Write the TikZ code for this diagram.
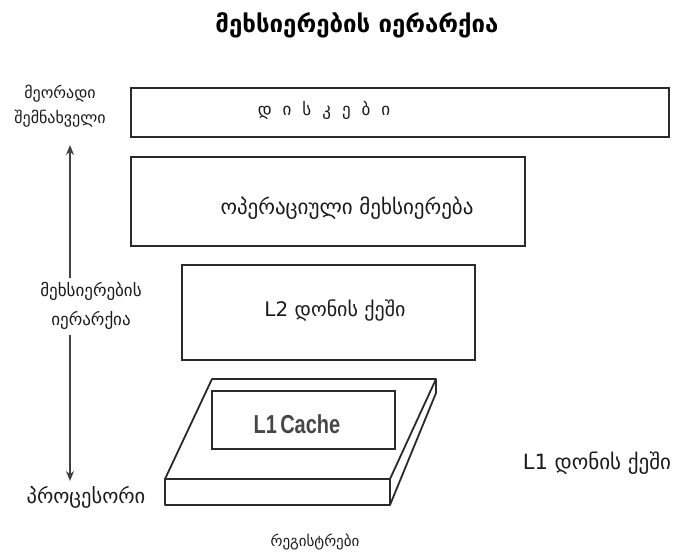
\documentclass[tikz,border=0pt]{standalone}
\usepackage{fontspec}
\newfontfamily\geo{DejaVu Sans}
\newfontfamily\lsans{Liberation Sans}
\usetikzlibrary{arrows.meta}
\definecolor{boxline}{HTML}{2A2A2A}
\definecolor{geotext}{HTML}{1A1A1A}
\newcommand{\fsz}[1]{\fontsize{#1}{#1}\selectfont}
\tikzset{
  boxstyle/.style={draw=boxline, line width=2.4pt, fill=white, inner sep=0pt},
  geolbl/.style={font=\geo, text=geotext, inner sep=0pt, align=center},
  slabline/.style={draw=boxline, line width=1.8pt, line join=round},
  arrline/.style={draw=black!75, line width=1.4pt},
  tip/.style={-{Stealth[length=10pt,width=8pt]}}
}
\begin{document}
\begin{tikzpicture}[x=1pt,y=-1pt]
\useasboundingbox (0,0) rectangle (673,556);
% title
\node[font=\geo\bfseries\fsz{24}, inner sep=0pt] (title) at (357,25) {მეხსიერების იერარქია};
% boxes
\node[boxstyle, minimum width=538pt, minimum height=49pt] (disk) at (400,112.5) {};
\node[geolbl, font=\geo\fsz{17}] (disktxt) at (324,110) {დ\hspace{11pt}ი\hspace{11pt}ს\hspace{11pt}კ\hspace{11pt}ე\hspace{11pt}ბ\hspace{11pt}ი};
\node[boxstyle, minimum width=394pt, minimum height=89pt] (ram) at (328,201.5) {};
\node[geolbl, font=\geo\fsz{21}] (ramtxt) at (347,208) {ოპერაციული მეხსიერება};
\node[boxstyle, minimum width=293pt, minimum height=95pt] (l2) at (328.5,312.5) {};
\node[geolbl, font=\geo\fsz{20}] (l2txt) at (335,310) {L2 დონის ქეში};
% L1 slab
\coordinate (tl) at (212,379);
\coordinate (tr) at (436,379);
\coordinate (fl) at (165,479);
\coordinate (fr) at (390,479);
\coordinate (bl) at (165,505);
\coordinate (br) at (390,505);
\coordinate (sr) at (436,393);
\path[slabline, fill=white] (tl) -- (tr) -- (sr) -- (br) -- (bl) -- (fl) -- cycle;
\draw[slabline] (fl) -- (fr) -- (br);
\draw[slabline] (fr) -- (tr);
\node[draw=boxline, line width=1.8pt, minimum width=183pt, minimum height=58pt, inner sep=0pt] (l1) at (303.5,420) {};
\node[font=\lsans\bfseries\fsz{20}, text=black!72, inner sep=0pt, yscale=1.3] (l1txt) at (297,424) {L1\,Cache};
% left labels
\node[geolbl, font=\geo\fsz{16}, align=center] (secondary) at (60,106) {მეორადი\\[7pt]შემნახველი};
\node[geolbl, font=\geo\fsz{17}, align=center] (hier) at (91,306) {მეხსიერების\\[10pt]იერარქია};
\node[geolbl, font=\geo\fsz{20.5}] (cpu) at (86,497) {პროცესორი};
\node[geolbl, font=\geo\fsz{15}] (regs) at (315,542) {რეგისტრები};
\node[geolbl, font=\geo\fsz{21}] (l1lbl) at (597,463) {L1 დონის ქეში};
% arrow
\coordinate (atop) at (70,145);
\coordinate (amidA) at (70,278);
\coordinate (amidB) at (70,335);
\coordinate (abot) at (70,481);
\draw[arrline, tip] (amidA) -- (atop);
\draw[arrline, tip] (amidB) -- (abot);
\end{tikzpicture}
\end{document}
